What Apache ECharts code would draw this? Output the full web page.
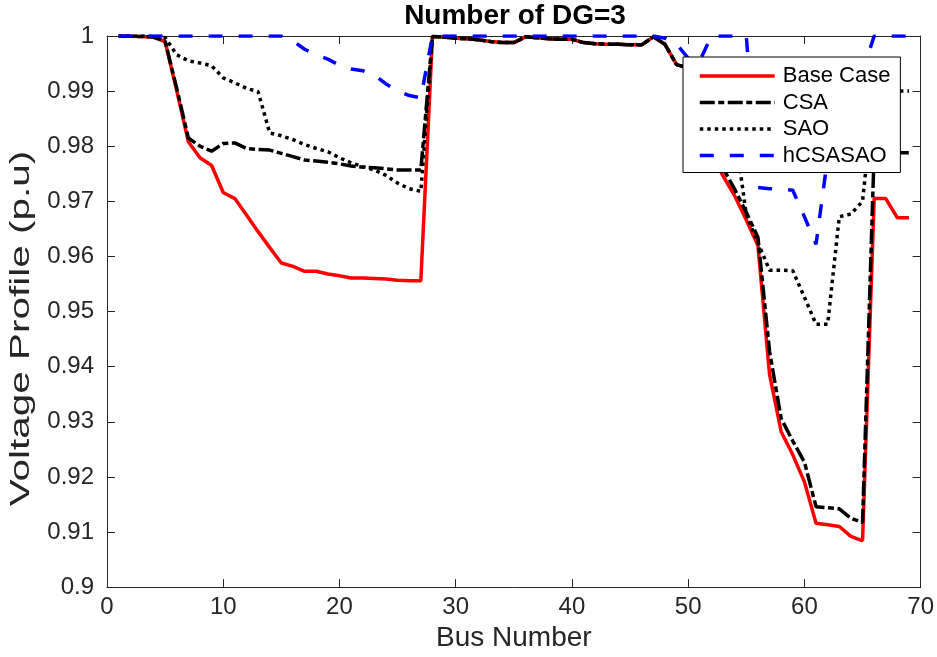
<!DOCTYPE html>
<html>
<head>
<meta charset="utf-8">
<script src="https://cdn.jsdelivr.net/npm/echarts@6/dist/echarts.min.js"></script>
<style>
html,body{margin:0;padding:0;background:#fff;}
#chart{width:937px;height:657px;}
</style>
</head>
<body>
<div id="chart"></div>
<script>
// ---- data ----
const busNumbers = [1,2,3,4,5,6,7,8,9,10,11,12,13,14,15,16,17,18,19,20,21,22,23,24,25,26,27,28,29,30,31,32,33,34,35,36,37,38,39,40,41,42,43,44,45,46,47,48,49,50,51,52,53,54,55,56,57,58,59,60,61,62,63,64,65,66,67,68,69];

const baseCase = [1.0000,0.99997,0.9999,0.9998,0.9990,0.9901,0.9808,0.9779,0.9765,0.9716,0.9705,0.9675,0.9645,0.9616,0.9588,0.9582,0.9573,0.9573,0.9568,0.9565,0.9561,0.9561,0.9560,0.9559,0.9557,0.9556,0.9556,
0.99993,0.9998,0.9996,0.9995,0.9993,0.9990,0.9988,0.9988,0.99985,0.9997,0.9995,0.9994,0.9994,0.9988,0.9986,0.9985,0.9985,0.9984,0.9984,0.99985,0.9985,0.9948,0.9942,
0.9785,0.9785,0.9746,0.9710,0.9666,0.9620,0.9386,0.9282,0.9240,0.9191,0.9116,0.9113,0.9110,0.9092,0.9084,0.9705,0.9705,0.9670,0.9670];

const csa = [1.0000,0.99997,0.9999,0.9998,0.9990,0.9905,0.9815,0.9800,0.9791,0.9805,0.9806,0.9796,0.9794,0.9793,0.9787,0.9781,0.9775,0.9773,0.9771,0.9768,0.9764,0.9762,0.9761,0.9759,0.9757,0.9757,0.9757,
0.99993,0.9998,0.9996,0.9995,0.9993,0.9990,0.9988,0.9988,0.99985,0.9997,0.9995,0.9994,0.9994,0.9988,0.9986,0.9985,0.9985,0.9984,0.9984,0.99985,0.9985,0.9948,0.9942,
0.9800,0.9795,0.9760,0.9722,0.9680,0.9635,0.9428,0.9306,0.9265,0.9227,0.9146,0.9144,0.9142,0.9125,0.9117,0.9790,0.9790,0.9788,0.9788];

const sao = [1.0000,1.0000,1.0000,0.99995,0.9997,0.9966,0.9955,0.9951,0.9946,0.9924,0.9915,0.9905,0.9899,0.9824,0.9819,0.9812,0.9803,0.9796,0.9790,0.9779,0.9770,0.9763,0.9757,0.9747,0.9733,0.9723,0.9718,
0.99993,0.9998,0.9996,0.9995,0.9993,0.9990,0.9988,0.9988,0.99985,0.9997,0.9995,0.9994,0.9994,0.9988,0.9986,0.9985,0.9985,0.9984,0.9984,0.99985,0.9985,0.9948,0.9942,
0.9900,0.9890,0.9870,0.9830,0.9675,0.9625,0.9575,0.9575,0.9574,0.9526,0.9477,0.9477,0.9672,0.9677,0.9700,0.9900,0.9900,0.9900,0.9900];

const hcsasao = [1,1,1,1,1,1,1,1,1,1,1,1,1,1,1,0.9991,0.9976,0.9966,0.9958,0.9947,0.9940,0.9937,0.9929,0.9913,0.9900,0.9892,0.9888,
1,1,1,1,1,1,1,1,1,1,1,1,1,1,1,1,1,1,1,1,0.9996,0.9985,0.9960,
0.9955,1,1,1,1,0.9725,0.9723,0.9722,0.9720,0.9672,0.9622,0.9780,0.9850,0.9910,0.9935,1,1,1,1];

const seriesNames = ['Base Case','CSA','SAO','hCSASAO'];
const xTicks = {min:0, max:70, interval:10};
const yTicks = {min:0.9, max:1, interval:0.01};
const yAxisTitle = 'Voltage Profile (p.u)';

function pairs(vals){ return busNumbers.map((b,i)=>[b, vals[i]]); }

const axisColor = '#262626';
const fontFam = '"Liberation Sans", Arial, Helvetica, sans-serif';

const chart = echarts.init(document.getElementById('chart'), null, {renderer:'canvas'});
const yFmt = v => String(parseFloat(v.toFixed(2)));

chart.setOption({
  backgroundColor:'#ffffff',
  animation:false,
  title:{
    text:'Number of DG=3',
    left:515, top:2, textAlign:'center', padding:0,
    textStyle:{fontFamily:fontFam, fontWeight:'bold', fontSize:28, color:'#000'}
  },
  grid:{left:107, right:14, top:36, bottom:68, show:false},
  legend:{
    orient:'vertical',
    left:683, top:57, z:20,
    padding:[8,10,6,15],
    backgroundColor:'#ffffff',
    borderColor:'#000', borderWidth:1,
    itemWidth:75, itemHeight:14, itemGap:4.5,
    itemStyle:{opacity:0, color:'rgba(0,0,0,0)', borderWidth:0},
    lineStyle:{width:3.5},
    textStyle:{fontFamily:fontFam, fontSize:22, color:'#000', lineHeight:22, padding:[0,0,0,3]},
    data:seriesNames
  },
  graphic:[
    {type:'text', left:8, top:'middle', z:10,
     rotation:Math.PI/2, scaleX:1.5, scaleY:1,
     style:{text:yAxisTitle, fontFamily:fontFam, fontSize:27, fill:axisColor,
            textAlign:'center', textVerticalAlign:'middle'}}
  ],
  xAxis:[
    {type:'value', position:'bottom', min:xTicks.min, max:xTicks.max, interval:xTicks.interval,
     name:'Bus Number', nameLocation:'middle', nameGap:33,
     nameTextStyle:{fontFamily:fontFam, fontSize:28, color:axisColor},
     axisLine:{show:true, onZero:false, lineStyle:{color:axisColor, width:1}},
     axisTick:{show:true, inside:true, length:8, lineStyle:{color:axisColor}},
     axisLabel:{fontFamily:fontFam, fontSize:24, color:axisColor, margin:8},
     splitLine:{show:false}},
    {type:'value', position:'top', min:xTicks.min, max:xTicks.max, interval:xTicks.interval,
     axisLine:{show:true, onZero:false, lineStyle:{color:axisColor, width:1}},
     axisTick:{show:true, inside:true, length:8, lineStyle:{color:axisColor}},
     axisLabel:{show:false}, splitLine:{show:false}}
  ],
  yAxis:[
    {type:'value', position:'left', min:yTicks.min, max:yTicks.max, interval:yTicks.interval,
     axisLine:{show:true, onZero:false, lineStyle:{color:axisColor, width:1}},
     axisTick:{show:true, inside:true, length:8, lineStyle:{color:axisColor}},
     axisLabel:{fontFamily:fontFam, fontSize:24, color:axisColor, margin:13, formatter:yFmt},
     splitLine:{show:false}},
    {type:'value', position:'right', min:yTicks.min, max:yTicks.max, interval:yTicks.interval,
     axisLine:{show:true, onZero:false, lineStyle:{color:axisColor, width:1}},
     axisTick:{show:true, inside:true, length:8, lineStyle:{color:axisColor}},
     axisLabel:{show:false}, splitLine:{show:false}}
  ],
  series:[
    {name:seriesNames[0], type:'line', data:pairs(baseCase), symbol:'none', z:2,
     lineStyle:{color:'#ff0000', width:3.5, type:'solid'}, itemStyle:{color:'#ff0000'}},
    {name:seriesNames[1], type:'line', data:pairs(csa), symbol:'none', z:3,
     lineStyle:{color:'#000000', width:3.5, type:[15,3.5,6,3.5]}, itemStyle:{color:'#000000'}},
    {name:seriesNames[2], type:'line', data:pairs(sao), symbol:'none', z:4,
     lineStyle:{color:'#000000', width:3.5, type:[3.5,4]}, itemStyle:{color:'#000000'}},
    {name:seriesNames[3], type:'line', data:pairs(hcsasao), symbol:'none', z:5,
     lineStyle:{color:'#0000ff', width:3.5, type:[14,16]}, itemStyle:{color:'#0000ff'}}
  ]
});
</script>
</body>
</html>
